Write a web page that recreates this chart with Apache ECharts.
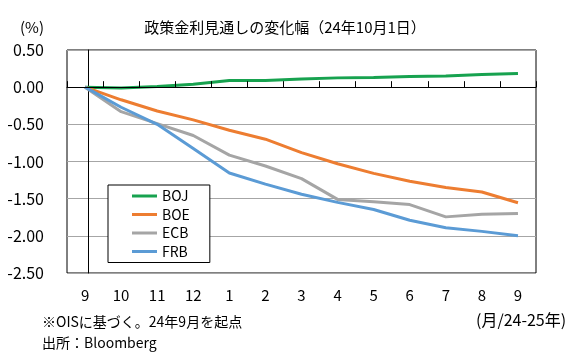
<!DOCTYPE html>
<html><head><meta charset="utf-8">
<script src="https://cdn.jsdelivr.net/npm/echarts@6/dist/echarts.min.js"></script>
<style>html,body{margin:0;padding:0;background:#fff}#c{width:587px;height:358px}</style>
</head><body><div id="c"></div>
<script>
const categories = ['9','10','11','12','1','2','3','4','5','6','7','8','9'];
const BOJ = [0, -0.01, 0.01, 0.04, 0.09, 0.09, 0.11, 0.125, 0.13, 0.145, 0.15, 0.17, 0.185];
const BOE = [0, -0.17, -0.32, -0.44, -0.58, -0.70, -0.88, -1.03, -1.16, -1.265, -1.35, -1.41, -1.555];
const ECB = [0, -0.33, -0.49, -0.65, -0.915, -1.06, -1.23, -1.51, -1.54, -1.58, -1.745, -1.71, -1.70];
const FRB = [0, -0.27, -0.50, -0.825, -1.155, -1.305, -1.44, -1.55, -1.645, -1.79, -1.89, -1.94, -2.00];
const seriesNames = ['BOJ','BOE','ECB','FRB'];
const seriesColors = ['#17a24f','#ed7d31','#a5a5a5','#5b9bd5'];
const yMin = -2.5, yMax = 0.5, yStep = 0.5;

const FONT = '"Noto Sans CJK JP", "Noto Sans", sans-serif';
const chart = echarts.init(document.getElementById('c'), null, {renderer:'canvas'});
const data = [BOJ, BOE, ECB, FRB];
chart.setOption({
  animation: false,
  textStyle: {fontFamily: FONT},
  grid: {left: 67, right: 51, top: 50, bottom: 85, show: true, borderColor: '#000', borderWidth: 1, backgroundColor: 'transparent'},
  legend: {
    orient: 'vertical', left: 108, top: 185,
    backgroundColor: '#fff', borderColor: '#000', borderWidth: 1,
    padding: [2, 20, 2, 24],
    icon: 'rect', itemWidth: 25, itemHeight: 3, itemGap: 0.5,
    textStyle: {fontFamily: FONT, fontSize: 14, color: '#000', lineHeight: 18},
    data: seriesNames
  },
  xAxis: [
    {type: 'category', data: categories, boundaryGap: true,
     axisLine: {onZero: true, lineStyle: {color: '#000', width: 1}},
     axisTick: {show: true, inside: true, length: 6, lineStyle: {color: '#000'}},
     axisLabel: {show: false}, splitLine: {show: false}, z: 5},
    {type: 'category', data: categories, boundaryGap: true, position: 'bottom',
     axisLine: {show: false, onZero: false}, axisTick: {show: false},
     axisLabel: {fontSize: 15, color: '#000', margin: 15, fontFamily: FONT}, splitLine: {show: false}}
  ],
  yAxis: [
    {type: 'value', min: yMin, max: yMax, interval: yStep,
     axisLine: {show: false}, axisTick: {show: false},
     axisLabel: {fontSize: 16, color: '#000', margin: 23, fontFamily: FONT, formatter: v => v.toFixed(2)},
     splitLine: {show: true, lineStyle: {color: '#a6a6a6', width: 1}}},
    {type: 'value', min: yMin, max: yMax, interval: yStep, position: 'left', offset: -21,
     axisLine: {show: true, lineStyle: {color: '#000', width: 1}}, axisTick: {show: false},
     axisLabel: {show: false}, splitLine: {show: false}}
  ],
  series: seriesNames.map((n, i) => ({
    name: n, type: 'line', data: data[i], xAxisIndex: 0, yAxisIndex: 0,
    symbol: 'none', lineStyle: {width: 3, color: seriesColors[i]}, itemStyle: {color: seriesColors[i]}, z: 3
  })),
  graphic: [
    {type: 'text', x: 285, y: 27, style: {text: '政策金利見通しの変化幅（24年10月1日）', font: '15px ' + FONT, fill: '#000', textAlign: 'center', textVerticalAlign: 'middle'}},
    {type: 'text', x: 32, y: 27, style: {text: '(%)', font: '15px ' + FONT, fill: '#000', textAlign: 'center', textVerticalAlign: 'middle'}},
    {type: 'text', x: 42, y: 322, style: {text: '※OISに基づく。24年9月を起点', font: '14px ' + FONT, fill: '#000', textAlign: 'left', textVerticalAlign: 'middle'}},
    {type: 'text', x: 42, y: 343, style: {text: '出所：Bloomberg', font: '14px ' + FONT, fill: '#000', textAlign: 'left', textVerticalAlign: 'middle'}},
    {type: 'text', x: 476, y: 320, style: {text: '(月/24-25年)', font: '16px ' + FONT, fill: '#000', textAlign: 'left', textVerticalAlign: 'middle'}}
  ]
});
</script></body></html>
